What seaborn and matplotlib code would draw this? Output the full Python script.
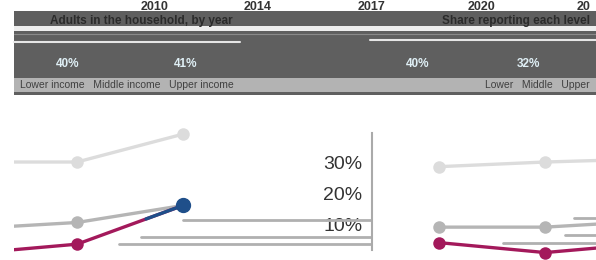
import matplotlib
matplotlib.use("Agg")
import matplotlib.pyplot as plt
from matplotlib.patches import Rectangle
import pandas as pd
import seaborn as sns

# values (percent)
steps = [0, 1, 2]
series = ["high", "middle", "low"]
left_high = [30, 30, 39]
left_middle = [8.5, 10.5, 16]
left_low = [0.5, 3.5, 16]
right_high = [28.5, 30, 31]
right_middle = [9, 9, 11]
right_low = [4, 0.8, 3.8]
highlight = [16]
y_ticks = [10, 20, 30]
y_labels = ["30%", "20%", "10%"][::-1]
left_refs = [11.3, 5.8, 3.5]
left_ref_start = [2.0, 1.6, 1.4]
right_refs = [11.8, 6.4, 3.8]
right_ref_start = [1.27, 1.19, 0.6]
years = ["2010", "2014", "2017", "2020", "20"]
year_x = [155, 258, 372, 482, 584]
header_pcts = ["40%", "41%", "40%", "32%"]
header_pct_x = [68, 186, 418, 528]

palette = {"high": "#dcdcdc", "middle": "#b5b5b5", "low": "#a3195b"}


def long_frame(high, middle, low):
    rows = []
    for name, vals in zip(series, [high, middle, low]):
        for s, v in zip(steps, vals):
            rows.append({"step": s, "value": v, "series": name})
    return pd.DataFrame(rows)


sns.set_theme(style="white")
plt.rcParams["font.family"] = ["Liberation Sans", "DejaVu Sans"]

fig = plt.figure(figsize=(5.96, 2.6), dpi=100)

# header band, drawn in pixel space
bg = fig.add_axes([0, 0, 1, 1])
bg.set_xlim(0, 596)
bg.set_ylim(260, 0)
bg.axis("off")
bg.add_patch(Rectangle((14, 11), 582, 84, color="#5f5f5f", lw=0))
bg.add_patch(Rectangle((14, 26), 582, 5, color="#eeeeee", lw=0))
bg.add_patch(Rectangle((14, 78), 582, 14, color="#b3b3b3", lw=0))
bg.plot([14, 240], [42, 42], color="#e6e6e6", lw=1.5)
bg.plot([370, 596], [40, 40], color="#e6e6e6", lw=1.5)
bg.plot([14, 596], [34, 34], color="#8a8a8a", lw=0.8)
for y, x in zip(years, year_x):
    bg.text(x, 7, y, ha="center", va="center", fontsize=9, fontweight="bold", color="#333333")
bg.text(50, 21, "Adults in the household, by year", ha="left", va="center",
        fontsize=8.5, fontweight="bold", color="#2a2a2a")
bg.text(590, 21, "Share reporting each level", ha="right", va="center",
        fontsize=8.5, fontweight="bold", color="#2a2a2a")
for p, x in zip(header_pcts, header_pct_x):
    bg.text(x, 64, p, ha="center", va="center", fontsize=8.5, fontweight="bold", color="#dfeff5")
bg.text(20, 85, "Lower income   Middle income   Upper income", ha="left", va="center",
        fontsize=7.5, color="#404040")
bg.text(590, 85, "Lower   Middle   Upper", ha="right", va="center",
        fontsize=7.5, color="#404040")

ylim = (-1.6, 50)

# left panel
ax_l = fig.add_axes([14 / 596, 0, (372 - 14) / 596, 160 / 260])
df_l = long_frame(left_high, left_middle, left_low)
for x0, lvl in zip(left_ref_start, left_refs):
    ax_l.plot([x0, 3.78], [lvl, lvl], color="#b0b0b0", lw=2, zorder=1)
sns.lineplot(data=df_l, x="step", y="value", hue="series", palette=palette,
             marker="o", markersize=9, markeredgewidth=0, linewidth=2.4,
             legend=False, ax=ax_l, zorder=3)
ax_l.plot([steps[-1]], highlight, "o", color="#1f4f8a", markersize=10, zorder=5)
ax_l.plot([1.65, steps[-1]], [left_low[1] + 0.65 * (left_low[2] - left_low[1]), highlight[0]],
          color="#1f4f8a", lw=2.4, zorder=4)
ax_l.set_xlim(0.406, 3.78)
ax_l.set_ylim(*ylim)
ax_l.set_facecolor("none")
for side in ["top", "left", "bottom"]:
    ax_l.spines[side].set_visible(False)
ax_l.spines["right"].set_color("#aaaaaa")
ax_l.spines["right"].set_linewidth(1.5)
ax_l.spines["right"].set_bounds(1.5, 39.4)
ax_l.yaxis.tick_right()
ax_l.set_yticks(y_ticks)
ax_l.set_yticklabels(y_labels)
ax_l.tick_params(axis="y", length=0, pad=-7, labelsize=14, labelcolor="#333333")
for lab in ax_l.get_yticklabels():
    lab.set_horizontalalignment("right")
ax_l.set_xticks([])
ax_l.set_xlabel("")
ax_l.set_ylabel("")

# right panel
ax_r = fig.add_axes([400 / 596, 0, 196 / 596, 160 / 260])
df_r = long_frame(right_high, right_middle, right_low)
for x0, lvl in zip(right_ref_start, right_refs):
    ax_r.plot([x0, 1.48], [lvl, lvl], color="#b0b0b0", lw=2, zorder=1)
sns.lineplot(data=df_r, x="step", y="value", hue="series", palette=palette,
             marker="o", markersize=9, markeredgewidth=0, linewidth=2.4,
             legend=False, ax=ax_r, zorder=3)
ax_r.set_xlim(-0.368, 1.48)
ax_r.set_ylim(*ylim)
ax_r.set_facecolor("none")
for side in ax_r.spines:
    ax_r.spines[side].set_visible(False)
ax_r.set_xticks([])
ax_r.set_yticks([])
ax_r.set_xlabel("")
ax_r.set_ylabel("")

fig.savefig("out.png", dpi=100)
